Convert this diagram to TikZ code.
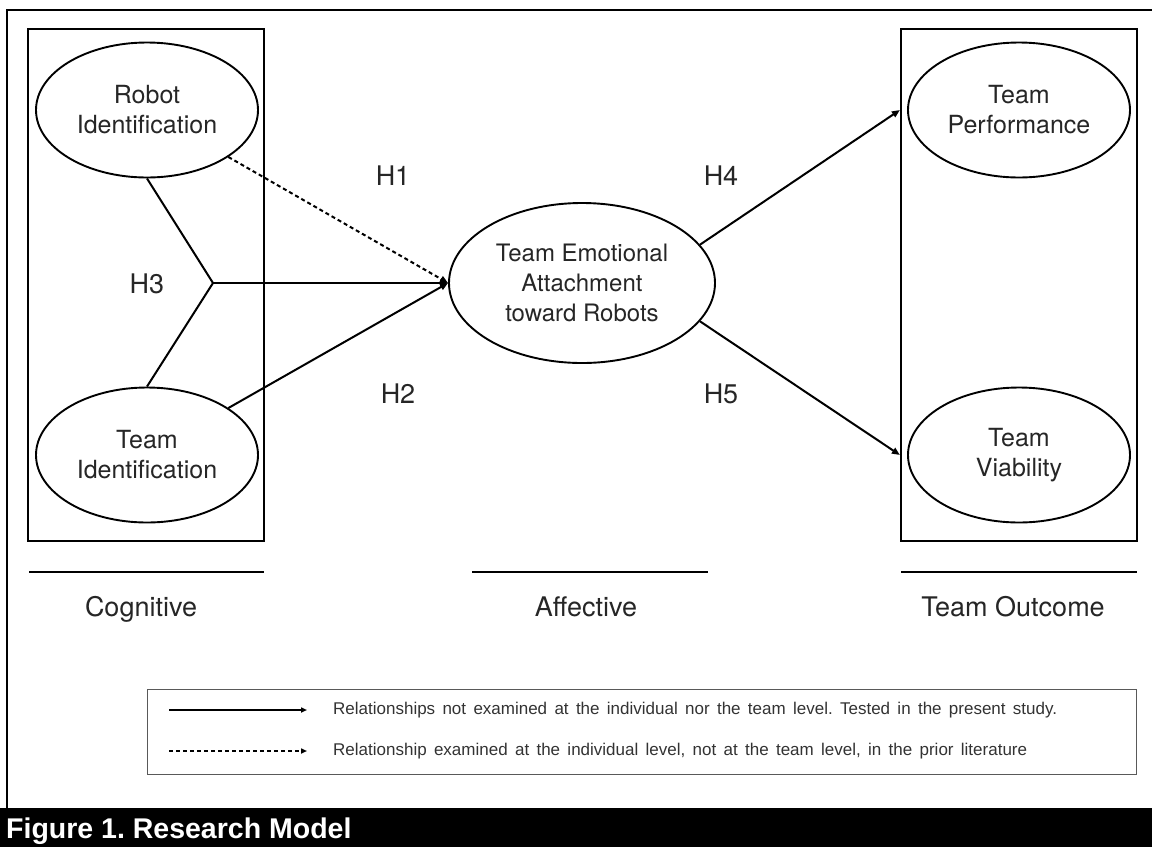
\documentclass[tikz,border=0pt]{standalone}
\usepackage{fontspec}
\setmainfont{TeX Gyre Heros}
\newfontfamily\legfont{Liberation Sans}
\newfontfamily\capfont{Liberation Sans}
\usetikzlibrary{shapes.geometric,arrows.meta,calc}
\frenchspacing
\begin{document}
\begin{tikzpicture}[x=1pt,y=-1pt,
  oval/.style={draw,ellipse,line width=1.9pt,inner sep=0pt,align=center,text=black!85,font=\fontsize{25}{30}\selectfont},
  group/.style={draw,line width=2.2pt,inner sep=0pt},
  link/.style={line width=2pt},
  arr/.style={link,-{Triangle[length=8pt,width=6.5pt]}},
  legarr/.style={line width=1.6pt,-{Triangle[length=6pt,width=5pt]}},
  hyp/.style={anchor=base,inner sep=0pt,text=black!85,font=\fontsize{27}{30}\selectfont},
  cat/.style={anchor=base,inner sep=0pt,text=black!85,font=\fontsize{27}{30}\selectfont},
  rulebar/.style={line width=2.6pt},
  legtext/.style={anchor=west,inner sep=0pt,text=black!80,font=\legfont\fontsize{17}{20}\selectfont}
]
\useasboundingbox (0,0) rectangle (1152,847);
\fill[white] (0,0) rectangle (1152,847);
\draw[line width=2.2pt] (7,808) -- (7,10) -- (1153,10);

% group boxes
\node[group,minimum width=236pt,minimum height=512pt] (inbox) at (146,285) {};
\node[group,minimum width=236pt,minimum height=512pt] (outbox) at (1019,285) {};

% constructs
\node[oval,minimum width=222pt,minimum height=135pt] (RI) at (147,110) {Robot\\Identification};
\node[oval,minimum width=222pt,minimum height=135pt] (TI) at (147,455) {Team\\Identification};
\node[oval,minimum width=222pt,minimum height=135pt] (TP) at (1019,110) {Team\\Performance};
\node[oval,minimum width=222pt,minimum height=135pt] (TV) at (1019,455) {Team\\Viability};
\node[oval,minimum width=266pt,minimum height=160pt,font=\fontsize{24}{30}\selectfont] (TEA) at (582,283) {Team Emotional\\Attachment\\toward Robots};

% connectors
\coordinate (J) at (213,283);
\draw[link] (RI.south) -- (J) -- (TI.north);
\draw[arr] (J) -- (TEA.west);
\draw[arr,dash pattern=on 4pt off 3pt] (RI.-30) -- (TEA.west);
\draw[arr] (TI.30) -- (TEA.west);
\draw[arr] (TEA.18) -- (outbox.west |- TP.center);
\draw[arr] (TEA.-18) -- (outbox.west |- TV.center);

% hypothesis labels
\node[hyp] (H1) at (393,185) {H1};
\node[hyp] (H2) at (398,403) {H2};
\node[hyp] (H3) at (147,293) {H3};
\node[hyp] (H4) at (721,185) {H4};
\node[hyp] (H5) at (721,403) {H5};

% category rules and labels
\draw[rulebar] (29,572) -- (264,572);
\draw[rulebar] (472,572) -- (708,572);
\draw[rulebar] (901,572) -- (1137,572);
\node[cat] (cog) at (141,616) {Cognitive};
\node[cat] (aff) at (586,616) {Affective};
\node[cat] (out) at (1013,616) {Team Outcome};

% legend
\node[draw=black!65,line width=1pt,minimum width=989pt,minimum height=85pt,inner sep=0pt] (legend) at (641.5,731.5) {};
\coordinate (la) at (169,710);
\coordinate (lb) at (307,710);
\coordinate (lc) at (169,751);
\coordinate (ld) at (307,751);
\draw[legarr] (la) -- (lb);
\draw[legarr,dash pattern=on 4pt off 3pt] (lc) -- (ld);
\node[legtext] (lt1) at (333,710) {\makebox[724pt][s]{Relationships not examined at the individual nor the team level. Tested in the present study.}};
\node[legtext] (lt2) at (333,751) {\makebox[694pt][s]{Relationship examined at the individual level, not at the team level, in the prior literature}};

% caption bar
\fill[black] (0,808) rectangle (1152,847);
\node[anchor=base west,inner sep=0pt,text=white,font=\capfont\bfseries\fontsize{28.5}{30}\selectfont] (cap) at (6,838) {Figure 1. Research Model};
\end{tikzpicture}
\end{document}
